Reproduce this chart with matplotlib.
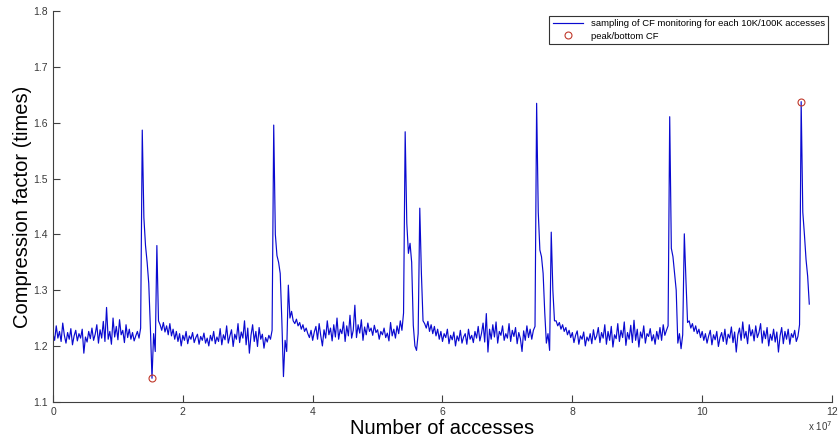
import numpy as np
import matplotlib
matplotlib.use("Agg")
import matplotlib.pyplot as plt
from matplotlib.ticker import FuncFormatter, MultipleLocator

plt.rcParams['font.family'] = ['Liberation Sans', 'DejaVu Sans']

# Compression factor sampled every 250K accesses
SAMPLE_STEP = 0.25e6

cf_run1 = [
    1.222, 1.210, 1.236, 1.214, 1.226, 1.208, 1.241, 1.219, 1.205, 1.224,
    1.212, 1.231, 1.202, 1.218, 1.228, 1.209, 1.222, 1.214, 1.230, 1.187,
    1.216, 1.207, 1.226, 1.213, 1.232, 1.210, 1.221, 1.238, 1.205, 1.229,
    1.214, 1.244, 1.208, 1.269, 1.212, 1.226, 1.203, 1.250, 1.216, 1.235,
    1.211, 1.247, 1.220, 1.228, 1.206, 1.238, 1.215, 1.230, 1.212, 1.224,
    1.209, 1.218, 1.226, 1.214, 1.232]
cf_burst1 = [1.587, 1.430, 1.380, 1.350, 1.312, 1.233, 1.142, 1.222, 1.190, 1.380]
cf_run2 = [
    1.245, 1.238, 1.228, 1.242, 1.225, 1.236, 1.220, 1.240, 1.218, 1.230,
    1.212, 1.226, 1.208, 1.222, 1.200, 1.219, 1.210, 1.226, 1.204, 1.218,
    1.212, 1.224, 1.206, 1.215, 1.221, 1.203, 1.217, 1.210, 1.223, 1.205,
    1.214, 1.200, 1.219, 1.209, 1.226, 1.204, 1.216, 1.208, 1.231, 1.202,
    1.220, 1.211, 1.236, 1.205, 1.218, 1.229, 1.199, 1.221, 1.212, 1.240,
    1.206, 1.225, 1.214, 1.245, 1.202, 1.232, 1.187, 1.219, 1.238, 1.208,
    1.226, 1.199, 1.233, 1.212, 1.221, 1.196, 1.215, 1.207, 1.219, 1.212,
    1.228]
cf_burst2 = [1.596, 1.400, 1.362, 1.350, 1.330, 1.246, 1.145, 1.210, 1.190, 1.309]
cf_run3 = [
    1.250, 1.262, 1.245, 1.240, 1.248, 1.236, 1.242, 1.230, 1.238, 1.226,
    1.232, 1.222, 1.215, 1.228, 1.210, 1.225, 1.235, 1.212, 1.240, 1.218,
    1.200, 1.229, 1.214, 1.245, 1.220, 1.232, 1.209, 1.238, 1.216, 1.250,
    1.212, 1.230, 1.222, 1.243, 1.208, 1.236, 1.218, 1.255, 1.214, 1.228,
    1.273, 1.215, 1.238, 1.223, 1.247, 1.210, 1.234, 1.220, 1.241, 1.226,
    1.232, 1.219, 1.237, 1.224, 1.229, 1.212, 1.226, 1.220, 1.232, 1.215,
    1.223, 1.209, 1.242, 1.218, 1.230, 1.214, 1.236, 1.222, 1.245, 1.228,
    1.259]
cf_burst3 = [1.584, 1.420, 1.366, 1.384, 1.350, 1.237, 1.200, 1.192, 1.222,
             1.447, 1.330, 1.245]
cf_run4 = [
    1.240, 1.232, 1.244, 1.226, 1.238, 1.222, 1.235, 1.218, 1.230, 1.212,
    1.226, 1.208, 1.222, 1.215, 1.230, 1.204, 1.219, 1.211, 1.225, 1.200,
    1.218, 1.209, 1.228, 1.205, 1.216, 1.222, 1.203, 1.230, 1.212, 1.219,
    1.206, 1.226, 1.214, 1.235, 1.209, 1.222, 1.241, 1.207, 1.258, 1.189,
    1.230, 1.212, 1.238, 1.216, 1.243, 1.205, 1.226, 1.219, 1.236, 1.210,
    1.222, 1.214, 1.240, 1.208, 1.228, 1.217, 1.233, 1.204, 1.224, 1.213,
    1.190, 1.227, 1.210, 1.236, 1.215, 1.230, 1.212, 1.228, 1.235]
cf_burst4 = [1.635, 1.440, 1.372, 1.360, 1.330, 1.260, 1.205, 1.222, 1.192,
             1.404, 1.300, 1.245]
cf_run5 = [
    1.245, 1.236, 1.242, 1.230, 1.238, 1.226, 1.233, 1.220, 1.228, 1.215,
    1.224, 1.206, 1.219, 1.227, 1.203, 1.218, 1.212, 1.225, 1.200, 1.216,
    1.209, 1.222, 1.204, 1.229, 1.211, 1.218, 1.233, 1.206, 1.224, 1.214,
    1.238, 1.203, 1.226, 1.210, 1.235, 1.198, 1.220, 1.213, 1.240, 1.208,
    1.228, 1.215, 1.243, 1.201, 1.224, 1.212, 1.237, 1.206, 1.246, 1.210,
    1.230, 1.198, 1.225, 1.214, 1.236, 1.205, 1.222, 1.217, 1.231, 1.209,
    1.220, 1.203, 1.226, 1.212, 1.233, 1.210, 1.238, 1.219, 1.228, 1.236]
cf_burst5 = [1.611, 1.375, 1.360, 1.330, 1.300, 1.205, 1.222, 1.195, 1.220,
             1.401, 1.318, 1.242]
cf_run6 = [
    1.245, 1.232, 1.240, 1.226, 1.236, 1.222, 1.230, 1.215, 1.226, 1.210,
    1.222, 1.205, 1.218, 1.228, 1.202, 1.220, 1.211, 1.226, 1.199, 1.215,
    1.224, 1.208, 1.230, 1.203, 1.221, 1.214, 1.234, 1.206, 1.225, 1.189,
    1.220, 1.232, 1.210, 1.243, 1.214, 1.226, 1.204, 1.238, 1.218, 1.229,
    1.209, 1.236, 1.215, 1.224, 1.240, 1.205, 1.227, 1.213, 1.233, 1.200,
    1.221, 1.210, 1.230, 1.207, 1.225, 1.189, 1.218, 1.233, 1.204, 1.226,
    1.212, 1.230, 1.203, 1.222, 1.215, 1.228, 1.208, 1.217, 1.238]
cf_burst6 = [1.638, 1.440, 1.400, 1.355, 1.325, 1.275]

series_label = "sampling of CF monitoring for each 10K/100K accesses"
extreme_label = "peak/bottom CF"
x_label = "Number of accesses"
y_label = "Compression factor (times)"
x_ticks = [0, 2e7, 4e7, 6e7, 8e7, 10e7, 12e7]

cf = np.array(cf_run1 + cf_burst1 + cf_run2 + cf_burst2 + cf_run3 + cf_burst3 +
              cf_run4 + cf_burst4 + cf_run5 + cf_burst5 + cf_run6 + cf_burst6)
accesses = np.arange(len(cf)) * SAMPLE_STEP
extremes = [int(np.argmin(cf)), int(np.argmax(cf))]

fig = plt.figure(figsize=(8.39, 4.43), dpi=100)
ax = fig.add_axes([53 / 839, 1 - 401.7 / 443, (832 - 53) / 839, (401.7 - 11.3) / 443])

ax.plot(accesses, cf, color='#0a0ad0', lw=0.85, label=series_label)
ax.plot(accesses[extremes], cf[extremes], 'o', mfc='none', mec='#c0392b',
        ms=5, mew=0.8, ls='none', label=extreme_label)

ax.set_xlim(0, 12e7)
ax.set_ylim(1.1, 1.8)
ax.set_xticks(x_ticks)
ax.xaxis.set_major_formatter(FuncFormatter(lambda v, p: f"{v / 1e7:g}"))
ax.yaxis.set_major_locator(MultipleLocator(0.1))
ax.yaxis.set_major_formatter(FuncFormatter(lambda v, p: f"{v:.1f}"))

for side in ('top', 'right'):
    ax.spines[side].set_visible(False)
for side in ('left', 'bottom'):
    ax.spines[side].set_color('#404040')
    ax.spines[side].set_linewidth(0.8)
ax.tick_params(direction='in', length=5, width=0.8, color='#404040',
               labelsize=7.5, labelcolor='#3a3a3a', pad=3.5)

ax.text(1.0, -0.045, r"x 10$^{7}$", transform=ax.transAxes, ha='right', va='top',
        fontsize=7, color='#3a3a3a')

ax.set_xlabel(x_label, fontsize=14.5, labelpad=2)
ax.set_ylabel(y_label, fontsize=14.5, labelpad=1)

leg = ax.legend(loc='upper right', bbox_to_anchor=(828 / 839, 1 - 16 / 443),
                bbox_transform=fig.transFigure, borderaxespad=0, fontsize=6.8,
                handlelength=3.2, labelspacing=0.35, borderpad=0.35,
                fancybox=False, framealpha=1, edgecolor='#333333')
leg.get_frame().set_linewidth(0.8)

fig.savefig("out.png", dpi=100)
